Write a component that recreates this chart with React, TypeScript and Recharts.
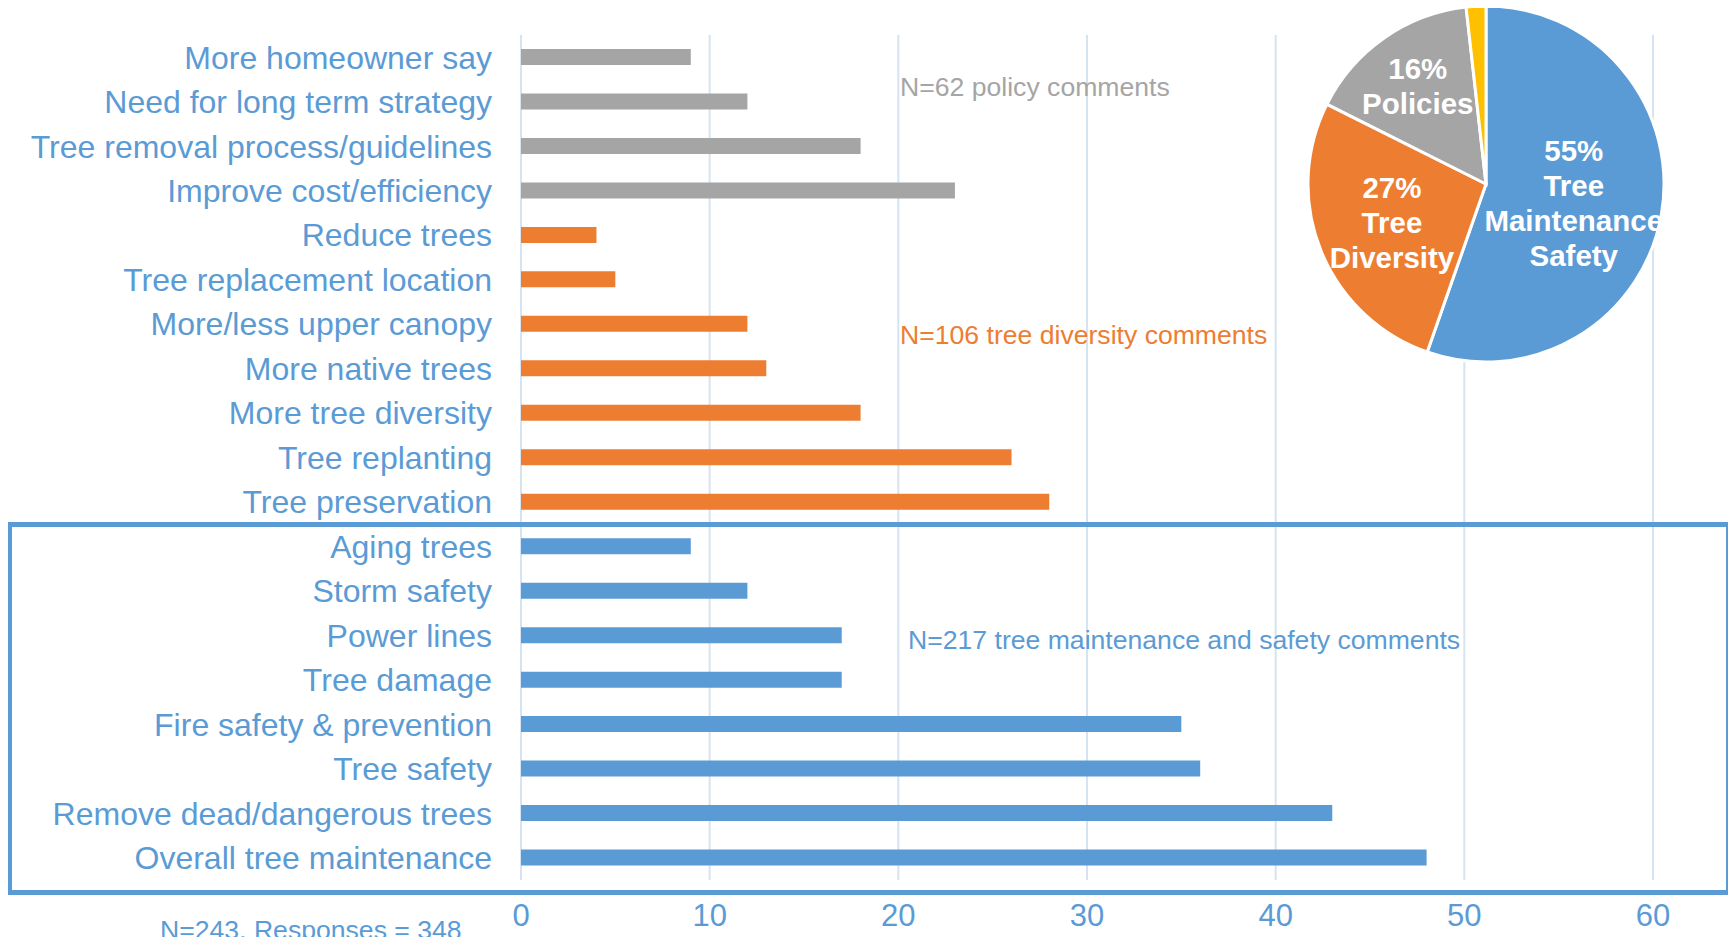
import React from 'react';
import { BarChart, Bar, XAxis, YAxis, CartesianGrid, Cell, PieChart, Pie } from 'recharts';

const categories = [
  'More homeowner say',
  'Need for long term strategy',
  'Tree removal process/guidelines',
  'Improve cost/efficiency',
  'Reduce trees',
  'Tree replacement location',
  'More/less upper canopy',
  'More native trees',
  'More tree diversity',
  'Tree replanting',
  'Tree preservation',
  'Aging trees',
  'Storm safety',
  'Power lines',
  'Tree damage',
  'Fire safety & prevention',
  'Tree safety',
  'Remove dead/dangerous trees',
  'Overall tree maintenance',
];
const counts = [9, 12, 18, 23, 4, 5, 12, 13, 18, 26, 28, 9, 12, 17, 17, 35, 36, 43, 48];
const groups = [
  'policy', 'policy', 'policy', 'policy',
  'diversity', 'diversity', 'diversity', 'diversity', 'diversity', 'diversity', 'diversity',
  'maint', 'maint', 'maint', 'maint', 'maint', 'maint', 'maint', 'maint',
];
const xTicks = [0, 10, 20, 30, 40, 50, 60];

const pieNames = ['Tree Maintenance Safety', 'Tree Diversity', 'Policies', 'Other'];
const pieValues = [217, 106, 62, 7];
const pieLines = [['Tree', 'Maintenance', 'Safety'], ['Tree', 'Diversity'], ['Policies'], []];

const BLUE = '#5B9BD5';
const ORANGE = '#ED7D31';
const GREY = '#A5A5A5';
const YELLOW = '#FFC000';
const groupColor: Record<string, string> = { policy: GREY, diversity: ORANGE, maint: BLUE };
const pieColors = [BLUE, ORANGE, GREY, YELLOW];
const labelRadius = [0.5, 0.57, 0.67, 0];

const font = '"Liberation Sans", Arial, sans-serif';

const barData = categories.map((name, i) => ({ name, value: counts[i], group: groups[i] }));
const pieData = pieNames.map((name, i) => ({ name, value: pieValues[i] }));

const RAD = Math.PI / 180;

const renderPieLabel = (p: any) => {
  const { cx, cy, midAngle, outerRadius, percent, index } = p;
  if (!labelRadius[index]) return null;
  const r = outerRadius * labelRadius[index];
  const x = cx + r * Math.cos(-midAngle * RAD);
  const y = cy + r * Math.sin(-midAngle * RAD) + (index === 0 ? 4 : 0);
  const lines = [`${Math.round(percent * 100)}%`, ...pieLines[index]];
  const lh = 35;
  return (
    <text
      x={x}
      y={y}
      fill="#fff"
      textAnchor="middle"
      fontFamily={font}
      fontWeight="bold"
      fontSize={29.5}
    >
      {lines.map((l, i) => (
        <tspan key={i} x={x} y={y + (i - (lines.length - 1) / 2) * lh} dominantBaseline="central">
          {l}
        </tspan>
      ))}
    </text>
  );
};

const note = (text: string, color: string, left: number, top: number) => (
  <div
    style={{
      position: 'absolute',
      left,
      top,
      color,
      fontFamily: font,
      fontSize: 26.6,
      lineHeight: '28px',
      whiteSpace: 'nowrap',
    }}
  >
    {text}
  </div>
);

export default function App() {
  return (
    <div style={{ position: 'relative', width: 1736, height: 945, margin: -8, background: '#fff', overflow: 'hidden' }}>
      <div style={{ position: 'absolute', left: 0, top: 0 }}>
        <BarChart
          width={1736}
          height={945}
          data={barData}
          layout="vertical"
          margin={{ top: 35, right: 83, bottom: 0, left: 0 }}
          barSize={16}
        >
          <CartesianGrid horizontal={false} stroke="#D6E3F2" strokeWidth={2} />
          <XAxis
            type="number"
            domain={[0, 60]}
            ticks={xTicks}
            height={65}
            axisLine={false}
            tickLine={false}
            tickSize={0}
            tickMargin={24}
            tick={{ fill: BLUE, fontSize: 31, fontFamily: font }}
          />
          <YAxis
            type="category"
            dataKey="name"
            width={521}
            axisLine={false}
            tickLine={false}
            tickSize={0}
            tickMargin={29}
            interval={0}
            tick={{ fill: BLUE, fontSize: 32, fontFamily: font }}
          />
          <Bar dataKey="value" isAnimationActive={false}>
            {barData.map((d, i) => (
              <Cell key={i} fill={groupColor[d.group]} />
            ))}
          </Bar>
        </BarChart>
      </div>

      <div style={{ position: 'absolute', left: 0, top: 0 }}>
        <PieChart width={1736} height={945} margin={{ top: 0, right: 0, bottom: 0, left: 0 }}>
          <Pie
            data={pieData}
            dataKey="value"
            cx={1486}
            cy={184}
            outerRadius={178}
            startAngle={90}
            endAngle={-270}
            stroke="#fff"
            strokeWidth={3}
            label={renderPieLabel}
            labelLine={false}
            isAnimationActive={false}
          >
            {pieData.map((d, i) => (
              <Cell key={i} fill={pieColors[i]} />
            ))}
          </Pie>
        </PieChart>
      </div>

      {note('N=62 policy comments', GREY, 900, 73)}
      {note('N=106 tree diversity comments', ORANGE, 900, 321)}
      {note('N=217 tree maintenance and safety comments', BLUE, 908, 626)}
      {note('N=243, Responses = 348', BLUE, 160, 916)}

      <div
        style={{
          position: 'absolute',
          left: 7,
          top: 522,
          width: 1724,
          height: 373,
          border: `5px solid ${BLUE}`,
          boxSizing: 'border-box',
          pointerEvents: 'none',
        }}
      />
    </div>
  );
}
